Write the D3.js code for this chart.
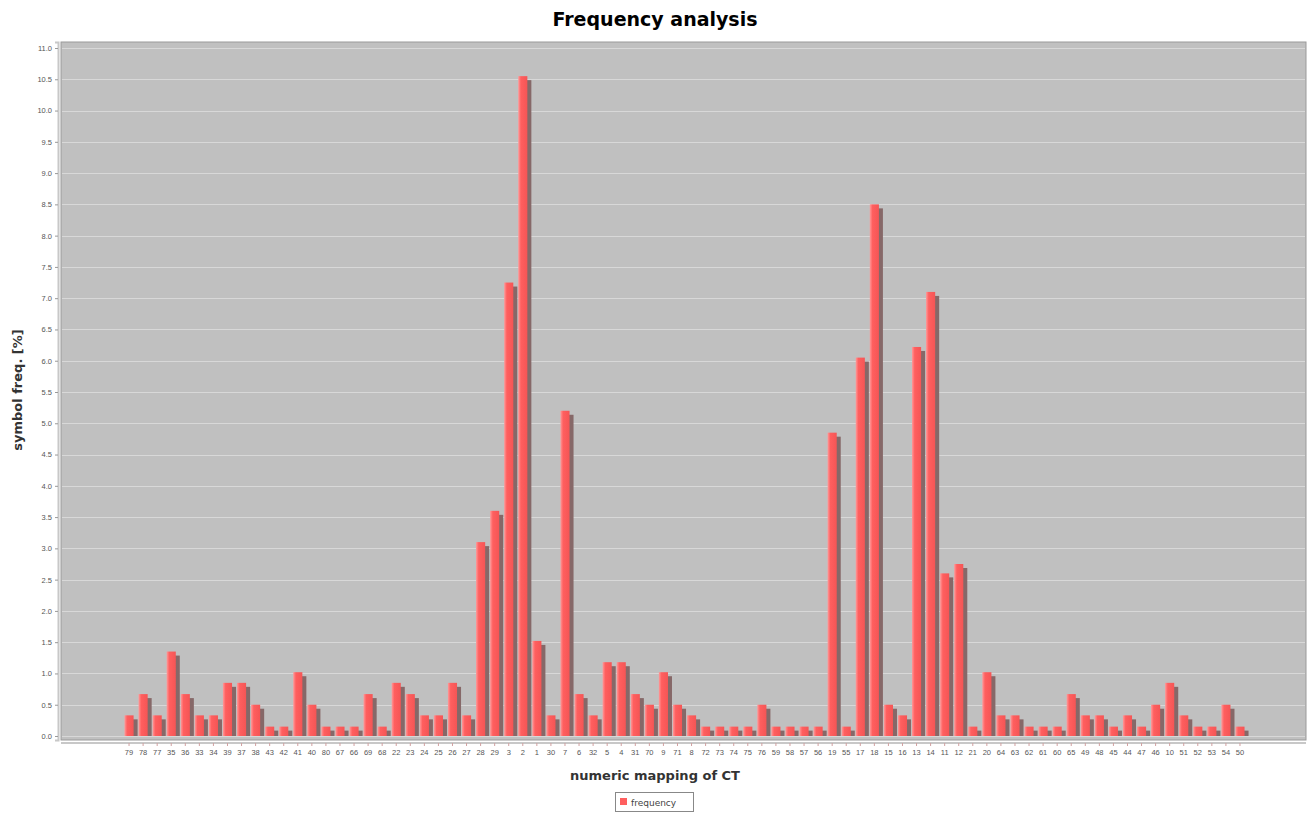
<!DOCTYPE html>
<html>
<head>
<meta charset="utf-8">
<script src="https://cdn.jsdelivr.net/npm/d3@7"></script>
<style>
  body { margin: 0; background: #fff; }
  svg { display: block; font-family: "DejaVu Sans", sans-serif; }
</style>
</head>
<body>
<svg id="chart" width="1309" height="814"></svg>
<script>
// categories in display order
const categories = ['79','78','77','35','36','33','34','39','37','38','43','42','41','40','80','67','66','69','68','22',
  '23','24','25','26','27','28','29','3','2','1','30','7','6','32','5','4','31','70','9','71',
  '8','72','73','74','75','76','59','58','57','56','19','55','17','18','15','16','13','14','11','12',
  '21','20','64','63','62','61','60','65','49','48','45','44','47','46','10','51','52','53','54','50'];

// symbol frequency [%]
const frequency = [0.33,0.67,0.33,1.35,0.67,0.33,0.33,0.85,0.85,0.5,0.15,0.15,1.02,0.5,0.15,0.15,0.15,0.67,0.15,0.85,
  0.67,0.33,0.33,0.85,0.33,3.1,3.6,7.25,10.55,1.52,0.33,5.2,0.67,0.33,1.18,1.18,0.67,0.5,1.02,0.5,
  0.33,0.15,0.15,0.15,0.15,0.5,0.15,0.15,0.15,0.15,4.85,0.15,6.05,8.5,0.5,0.33,6.22,7.1,2.6,2.75,
  0.15,1.02,0.33,0.33,0.15,0.15,0.15,0.67,0.33,0.33,0.15,0.33,0.15,0.5,0.85,0.33,0.15,0.15,0.5,0.15];

const yTicks = d3.range(0, 11.01, 0.5);

const svg = d3.select('#chart');
const plot = { left: 61, right: 1306, top: 42, bottom: 740 };

const x = d3.scaleBand()
  .domain(categories)
  .range([122, 1247])
  .paddingInner(0.35)
  .paddingOuter(0.175);

const y = d3.scaleLinear()
  .domain([-0.064, 11.096])
  .range([plot.bottom, plot.top]);

// gradient for bars
const defs = svg.append('defs');
const grad = defs.append('linearGradient').attr('id', 'barGrad')
  .attr('x1', '0%').attr('x2', '100%').attr('y1', '0%').attr('y2', '0%');
grad.append('stop').attr('offset', '0%').attr('stop-color', '#ff9a9a');
grad.append('stop').attr('offset', '30%').attr('stop-color', '#ff5f5f');
grad.append('stop').attr('offset', '100%').attr('stop-color', '#f55555');

// title
svg.append('text')
  .attr('x', 655).attr('y', 26)
  .attr('text-anchor', 'middle')
  .attr('font-size', '19px').attr('font-weight', 'bold')
  .attr('fill', '#000')
  .text('Frequency analysis');

// plot background
svg.append('rect')
  .attr('x', plot.left).attr('y', plot.top)
  .attr('width', plot.right - plot.left).attr('height', plot.bottom - plot.top)
  .attr('fill', '#c0c0c0')
  .attr('stroke', '#9a9a9a').attr('stroke-width', 1);

// gridlines
svg.append('g')
  .selectAll('line')
  .data(yTicks)
  .join('line')
  .attr('x1', plot.left + 1).attr('x2', plot.right - 1)
  .attr('y1', d => Math.round(y(d)) + 0.5).attr('y2', d => Math.round(y(d)) + 0.5)
  .attr('stroke', '#d8d8d8').attr('stroke-width', 1);

// y axis
const yAxis = svg.append('g')
  .attr('transform', `translate(${plot.left - 3},0)`)
  .call(d3.axisLeft(y).tickValues(yTicks).tickFormat(d3.format('.1f')).tickSize(3).tickPadding(3));
yAxis.select('.domain').attr('stroke', '#c8c8c8').attr('stroke-width', 2);
yAxis.selectAll('.tick line').attr('stroke', '#999');
yAxis.selectAll('text').attr('font-size', '7.5px').attr('fill', '#555');

// x axis
const xAxis = svg.append('g')
  .attr('transform', `translate(0,${plot.bottom + 3})`)
  .call(d3.axisBottom(x).tickSize(3).tickPadding(4));
xAxis.select('.domain').attr('d', `M${plot.left},0H${plot.right}`).attr('stroke', '#c8c8c8').attr('stroke-width', 2);
xAxis.selectAll('.tick line').attr('stroke', '#d0a0a0');
xAxis.selectAll('text').attr('font-size', '7.5px').attr('fill', '#555');

// bars: shadow then main bar
const bars = svg.append('g');
bars.selectAll('rect.shadow')
  .data(frequency)
  .join('rect')
  .attr('class', 'shadow')
  .attr('x', (d, i) => x(categories[i]) + 4)
  .attr('y', d => y(d) + 4)
  .attr('width', x.bandwidth())
  .attr('height', d => Math.max(0, y(0) - y(d) - 4))
  .attr('fill', '#866868');
bars.selectAll('rect.bar')
  .data(frequency)
  .join('rect')
  .attr('class', 'bar')
  .attr('x', (d, i) => x(categories[i]))
  .attr('y', d => y(d))
  .attr('width', x.bandwidth())
  .attr('height', d => y(0) - y(d))
  .attr('fill', 'url(#barGrad)');

// axis labels
svg.append('text')
  .attr('transform', 'translate(22,390) rotate(-90)')
  .attr('text-anchor', 'middle')
  .attr('font-size', '13px').attr('font-weight', 'bold')
  .attr('fill', '#333')
  .text('symbol freq. [%]');

svg.append('text')
  .attr('x', 655).attr('y', 780)
  .attr('text-anchor', 'middle')
  .attr('font-size', '13px').attr('font-weight', 'bold')
  .attr('fill', '#333')
  .text('numeric mapping of CT');

// legend
const legend = svg.append('g').attr('transform', 'translate(615,792)');
legend.append('rect')
  .attr('x', 0.5).attr('y', 0.5).attr('width', 78).attr('height', 19)
  .attr('fill', '#fff').attr('stroke', '#888');
legend.append('rect')
  .attr('x', 5).attr('y', 6).attr('width', 7).attr('height', 7)
  .attr('fill', '#ff5f5f');
legend.append('text')
  .attr('x', 16).attr('y', 13.5)
  .attr('font-size', '9px').attr('fill', '#444')
  .text('frequency');
</script>
</body>
</html>
